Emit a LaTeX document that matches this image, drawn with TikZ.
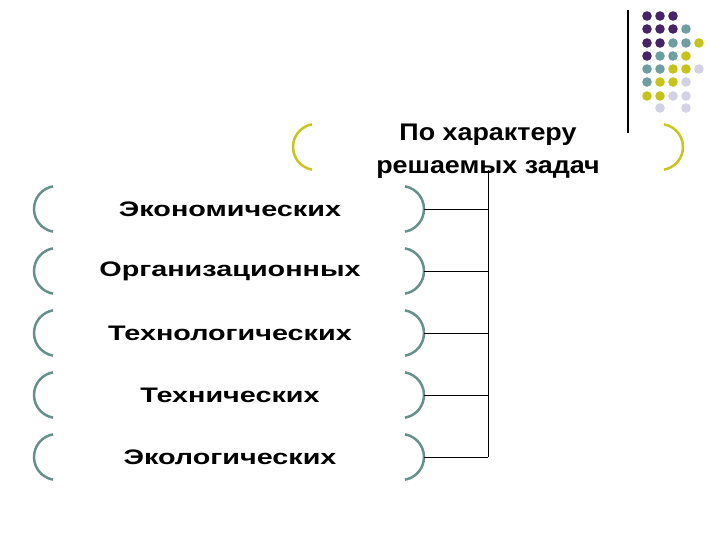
\documentclass[tikz,border=0pt]{standalone}
\usepackage{fontspec}
\setmainfont{Liberation Sans}
\newfontfamily\stretchfont[FakeStretch=1.37]{Liberation Sans}
\newfontfamily\titlefont[FakeStretch=1.12]{Liberation Sans}
\definecolor{dotpurple}{RGB}{70,36,102}
\definecolor{dotteal}{RGB}{110,158,160}
\definecolor{dotyellow}{RGB}{198,196,26}
\definecolor{dotlilac}{RGB}{210,210,228}
\definecolor{arcteal}{RGB}{104,144,138}
\definecolor{arcyellow}{RGB}{200,198,30}
\tikzset{
  tealarc/.style={arcteal, line width=2.5pt},
  yellowarc/.style={arcyellow, line width=2.5pt},
  itemtext/.style={font=\stretchfont\bfseries\fontsize{21}{25}\selectfont},
  titletext/.style={font=\titlefont\bfseries\fontsize{24}{33}\selectfont, align=center}
}
\begin{document}
\begin{tikzpicture}[x=1pt, y=-1pt]
  \useasboundingbox (0,0) rectangle (720,540);
  \foreach \x/\y/\c in {647/16/dotpurple, 660/16/dotpurple, 673/16/dotpurple,
      647/29/dotpurple, 660/29/dotpurple, 673/29/dotpurple, 686/29/dotteal,
      647/43/dotpurple, 660/43/dotpurple, 673/43/dotteal, 686/43/dotteal, 699/43/dotyellow,
      647/56/dotpurple, 660/56/dotteal, 673/56/dotteal, 686/56/dotyellow,
      647/69/dotteal, 660/69/dotteal, 673/69/dotyellow, 686/69/dotyellow, 699/69/dotlilac,
      647/82/dotteal, 660/82/dotyellow, 673/82/dotyellow, 686/82/dotlilac,
      647/96/dotyellow, 660/96/dotyellow, 673/96/dotlilac, 686/96/dotlilac,
      660/108/dotlilac, 686/108/dotlilac}
    \fill[\c] (\x,\y) circle (4.8);
  \draw[line width=1.2pt] (628,10) -- (628,133);
  \draw[yellowarc] (316,147) ++(100:23) arc (100:260:23);
  \draw[yellowarc] (660,147) ++(-80:23) arc (-80:80:23);
  \node[titletext] (title) at (488,151) {По характеру\\решаемых задач};
  \foreach \y/\t [count=\i] in {209/Экономических, 271/Организационных,
      333/Технологических, 395/Технических, 457/Экологических} {
    \draw[tealarc] (57,\y) ++(100:23) arc (100:260:23);
    \draw[tealarc] (401,\y) ++(-80:23) arc (-80:80:23);
    \node[itemtext] (item\i) at (230,\y) {\t};
    \coordinate (r\i) at (424,\y);
    \coordinate (b\i) at (488,\y);
    \draw (r\i) -- (b\i);
  }
  \coordinate (bustop) at (488,170);
  \draw (bustop) -- (b5);
\end{tikzpicture}
\end{document}
